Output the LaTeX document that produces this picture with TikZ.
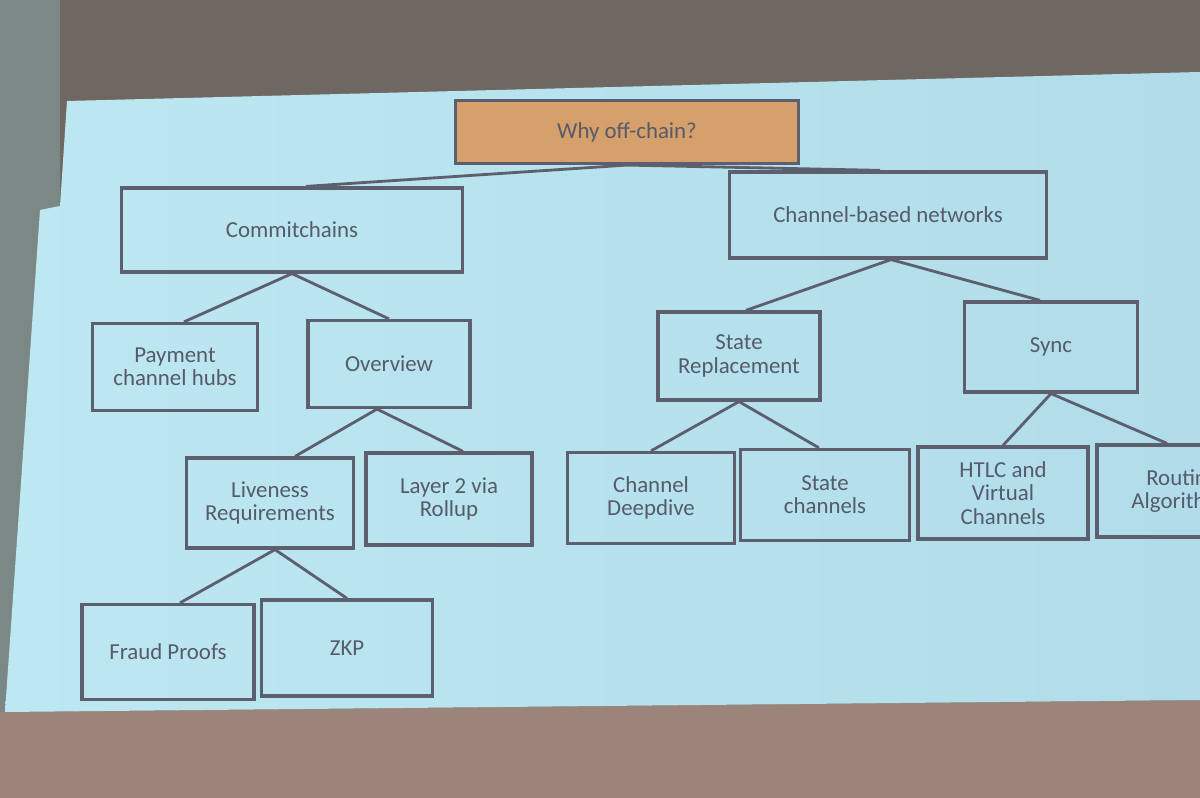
\documentclass[tikz,border=0pt]{standalone}
\usepackage{fontspec}
\setmainfont{Carlito}
\usetikzlibrary{positioning}
\definecolor{Wall}{HTML}{6E6762}
\definecolor{WallSide}{HTML}{7C8885}
\definecolor{Floor}{HTML}{9B857A}
\definecolor{SlideLight}{HTML}{BDE8F2}
\definecolor{SlideDark}{HTML}{B0DDE9}
\definecolor{Edge}{HTML}{5D5E6E}
\definecolor{Label}{HTML}{565A6A}
\definecolor{Root}{HTML}{D5A06B}

\begin{document}
\begin{tikzpicture}[x=0.01cm,y=-0.01cm,
  box/.style={draw=Edge,line width=0.9pt,inner sep=0pt,align=center,
    text=Label,font=\fontsize{6.5}{6.6}\selectfont},
  link/.style={Edge,line width=0.8pt}]
\useasboundingbox (0,0) rectangle (1200,798);
\clip (0,0) rectangle (1200,798);
% room behind the screen
\fill[Wall] (0,0) rectangle (1200,798);
\fill[WallSide] (0,0) rectangle (60,720);
\fill[Floor] (0,712) -- (1200,700) -- (1200,798) -- (0,798) -- cycle;
\shade[left color=SlideLight,right color=SlideDark]
  (67,101) -- (1200,72) -- (1200,700) -- (5,712) -- (40,210) -- (60,206) -- cycle;

% tree
\node[box,fill=Root,minimum width=3.42cm,minimum height=0.63cm] (why) at (627,132) {Why off-chain?};
\node[box,minimum width=3.41cm,minimum height=0.84cm] (commit) at (292,230) {Commitchains};
\node[box,minimum width=3.17cm,minimum height=0.86cm] (chan) at (888,215) {Channel-based networks};

\node[box,minimum width=1.65cm,minimum height=0.87cm] (hubs) at (175,367) {Payment\\channel hubs};
\node[box,minimum width=1.62cm,minimum height=0.87cm] (over) at (389,364) {Overview};
\node[box,minimum width=1.62cm,minimum height=0.88cm] (staterep) at (739,356) {State\\Replacement};
\node[box,minimum width=1.73cm,minimum height=0.90cm] (sync) at (1051,347) {Sync};

\node[box,minimum width=1.67cm,minimum height=0.90cm] (live) at (270,503) {Liveness\\Requirements};
\node[box,minimum width=1.66cm,minimum height=0.92cm] (rollup) at (449,499) {Layer 2 via\\Rollup};
\node[box,minimum width=1.67cm,minimum height=0.91cm] (deep) at (651,498) {Channel\\Deepdive};
\node[box,minimum width=1.69cm,minimum height=0.91cm] (statech) at (825,495) {State\\channels};
\node[box,minimum width=1.70cm,minimum height=0.92cm] (htlc) at (1003,493) {HTLC and\\Virtual\\Channels};
\node[box,minimum width=1.70cm,minimum height=0.92cm] (routing) at (1182,491) {Routing\\Algorithms};

\node[box,minimum width=1.72cm,minimum height=0.95cm] (fraud) at (168,652) {Fraud Proofs};
\node[box,minimum width=1.71cm,minimum height=0.96cm] (zkp) at (347,648) {ZKP};

\draw[link] (why.south) -- ([xshift=0.14cm]commit.north);
\draw[link] (why.south) -- ([xshift=-0.08cm]chan.north);
\draw[link] (commit.south) -- ([xshift=0.09cm]hubs.north);
\draw[link] (commit.south) -- (over.north);
\draw[link] ([xshift=0.03cm]chan.south) -- ([xshift=0.07cm]staterep.north);
\draw[link] ([xshift=0.03cm]chan.south) -- ([xshift=-0.11cm]sync.north);
\draw[link] ([xshift=-0.12cm]over.south) -- ([xshift=0.25cm]live.north);
\draw[link] ([xshift=-0.12cm]over.south) -- ([xshift=0.14cm]rollup.north);
\draw[link] (staterep.south) -- (deep.north);
\draw[link] (staterep.south) -- ([xshift=-0.06cm]statech.north);
\draw[link] (sync.south) -- (htlc.north);
\draw[link] (sync.south) -- ([xshift=-0.15cm]routing.north);
\draw[link] ([xshift=0.05cm]live.south) -- ([xshift=0.12cm]fraud.north);
\draw[link] ([xshift=0.05cm]live.south) -- (zkp.north);
\end{tikzpicture}
\end{document}
